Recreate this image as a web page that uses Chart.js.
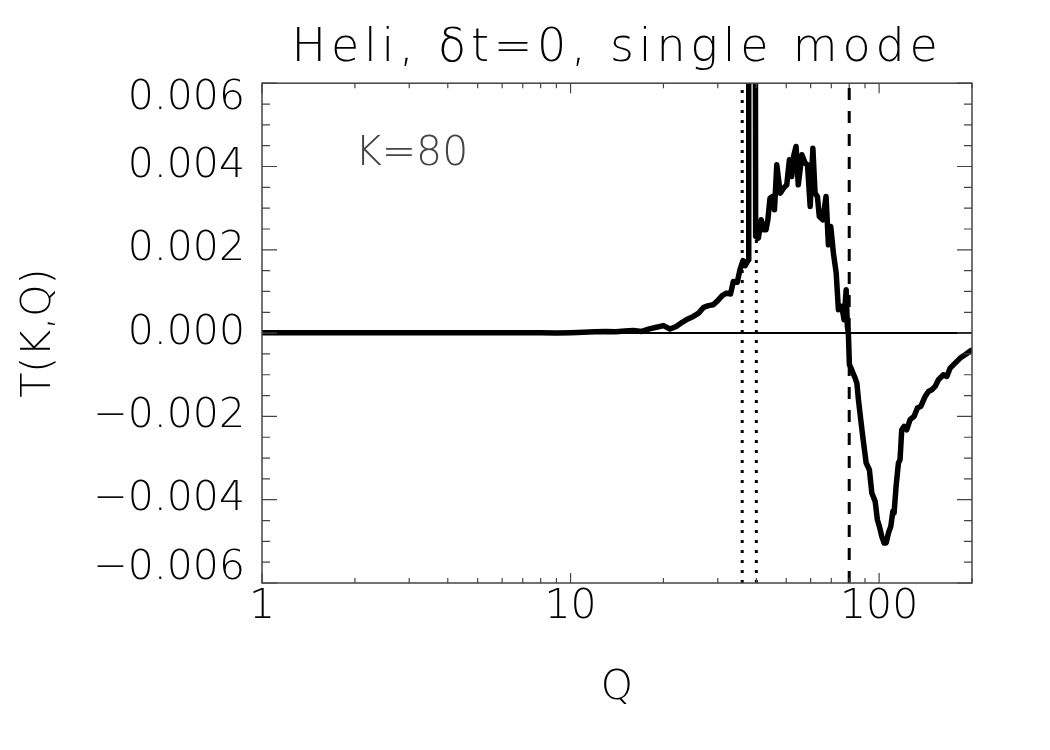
<!DOCTYPE html>
<html>
<head>
<meta charset="utf-8">
<script src="https://cdn.jsdelivr.net/npm/chart.js@4.4.1/dist/chart.umd.min.js"></script>
<style>
html,body{margin:0;padding:0;background:#fff;}
#wrap{width:1050px;height:750px;}
</style>
</head>
<body>
<div id="wrap"><canvas id="c" width="1050" height="750"></canvas></div>
<script>
// ---------- text ----------
const titleText = 'Heli, \u03B4t=0, single mode';
const xAxisTitle = 'Q';
const yAxisTitle = 'T(K,Q)';
const annotationText = 'K=80';
const annotationQ = 2;
const annotationT = 0.0043;

// ---------- data ----------
const qValues = [
  1, 2, 3, 4, 5, 6, 7, 8, 9, 10,
  11, 12, 13, 14, 15, 16, 17, 18, 19, 20,
  21, 22, 23, 24, 25, 26, 27, 28, 29, 30,
  31, 32, 33, 33.7, 34.7, 35.4, 36.2, 36.8, 37.7, 37.8,
  39.5, 39.8, 40.6, 41.5, 42.2, 43.0, 43.6, 44.3, 45.1, 45.8,
  46.6, 47.8, 49.0, 50.2, 51.2, 52.1, 52.8, 53.8, 54.7, 56.2,
  57.6, 58.6, 59.8, 61.0, 62.0, 63.1, 64.0, 65.7, 67.3, 68.5,
  69.7, 71.1, 72.6, 73.8, 75.7, 77.0, 78.2, 78.9, 79.5, 80.1,
  81.5, 83.6, 84.7, 85.7, 87.2, 88.5, 90.8, 93.0, 94.7, 97.1,
  98.7, 100.2, 102.0, 103.8, 105.4, 107.2, 109.1, 110.8, 111.8, 113.5,
  115.5, 116.9, 118.4, 120.5, 122.9, 126.0, 129.8, 133.1, 136.5, 141.0,
  144.5, 148.2, 151.9, 155.7, 161.6, 165.8, 169.9, 176.4, 183.1, 190.0,
  198.3, 200
];
const tValues = [
  0.00001, 0.00001, 0.00001, 0.00001, 0.00001, 0.00001, 0.00001, 0.00001, 0.000005, 0.00001,
  0.00002, 0.00003, 0.00004, 0.00003, 0.00005, 0.00006, 0.00004, 0.00010, 0.00014, 0.00018,
  0.00010, 0.00016, 0.00026, 0.00034, 0.00040, 0.00048, 0.00062, 0.00066, 0.00068, 0.00078,
  0.00090, 0.00096, 0.00094, 0.00124, 0.00122, 0.00152, 0.00174, 0.00162, 0.00176, 0.02,
  0.02, 0.00232, 0.00228, 0.00272, 0.00248, 0.00248, 0.00272, 0.00324, 0.00328, 0.00296,
  0.00404, 0.00336, 0.00348, 0.00356, 0.00416, 0.00376, 0.00424, 0.00448, 0.00356, 0.00428,
  0.00408, 0.00404, 0.00304, 0.00444, 0.00336, 0.00328, 0.00280, 0.00272, 0.00328, 0.00212,
  0.00256, 0.00192, 0.00144, 0.00056, 0.00064, 0.00032, 0.00104, 0.00016, 0.00000, -0.00075,
  -0.00088, -0.00108, -0.00120, -0.00160, -0.00208, -0.00248, -0.00312, -0.00328, -0.00384, -0.00404,
  -0.00448, -0.00464, -0.00488, -0.00504, -0.00504, -0.00480, -0.00464, -0.00428, -0.00432, -0.00368,
  -0.00312, -0.00304, -0.00232, -0.00224, -0.00232, -0.00208, -0.00200, -0.00180, -0.00176, -0.00152,
  -0.00140, -0.00136, -0.00128, -0.00112, -0.00100, -0.00104, -0.00084, -0.00072, -0.00060, -0.00052,
  -0.00042, -0.00042
];
const zeroLevel = 0;
const dottedQ = [36, 40];
const dashedQ = [80];

// ---------- axes ----------
const xRange = [1, 200];
const yRange = [-0.006, 0.006];
const xMajorTicks = [1, 10, 100];
const xTickLabels = ['1', '10', '100'];
const xMinorTicks = [2, 3, 4, 5, 6, 7, 8, 9, 20, 30, 40, 50, 60, 70, 80, 90, 200];
const yMajorTicks = [-0.006, -0.004, -0.002, 0, 0.002, 0.004, 0.006];
const yTickLabels = ['\u22120.006', '\u22120.004', '\u22120.002', '0.000', '0.002', '0.004', '0.006'];
const yMinorTicks = [-0.0055, -0.005, -0.0045, -0.0035, -0.003, -0.0025, -0.0015, -0.001, -0.0005,
                     0.0005, 0.001, 0.0015, 0.0025, 0.003, 0.0035, 0.0045, 0.005, 0.0055];

const FONT = '"DejaVu Sans", "Liberation Sans", sans-serif';
const FRAME = '#444';

function vline(q) {
  return [{x: q, y: yRange[0]}, {x: q, y: yRange[1]}];
}

const datasets = [
  { data: [{x: xRange[0], y: zeroLevel}, {x: xRange[1], y: zeroLevel}],
    borderColor: '#000', borderWidth: 2, pointRadius: 0, clip: 0 },
  ...dottedQ.map(q => ({ data: vline(q), borderColor: '#000', borderWidth: 3,
    borderDash: [3, 7], borderCapStyle: 'butt', pointRadius: 0, clip: 0 })),
  ...dashedQ.map(q => ({ data: vline(q), borderColor: '#000', borderWidth: 3,
    borderDash: [12, 11], borderCapStyle: 'butt', pointRadius: 0, clip: 0 })),
  { data: qValues.map((q, i) => ({x: q, y: tValues[i]})),
    borderColor: '#000', borderWidth: 5.5, pointRadius: 0, tension: 0,
    borderJoinStyle: 'round', borderCapStyle: 'round', clip: 0 }
];

const framePlugin = {
  id: 'frameTicks',
  afterLayout(chart) {
    const tb = chart.titleBlock;
    if (tb && !tb._spaced) {
      const orig = tb.draw;
      tb.draw = function(...args) {
        const c = this.ctx;
        const a = chart.chartArea;
        const dx = (a.left + a.right) / 2 - (this.left + this.right) / 2;
        c.save();
        c.translate(dx, 0);
        c.letterSpacing = '4.8px';
        orig.apply(this, args);
        c.restore();
      };
      tb._spaced = true;
    }
  },
  beforeDraw(chart) {
    const ys = chart.scales.y;
    const items = ys.getLabelItems();
    if (items && !items._shifted && items.length) {
      items[0].options.translation[1] -= 15;
      items[items.length - 1].options.translation[1] += 15;
      items._shifted = true;
    }
  },
  afterDatasetsDraw(chart) {
    const {ctx, chartArea: a, scales: {x, y}} = chart;
    ctx.save();
    ctx.strokeStyle = FRAME;
    ctx.lineWidth = 1.5;
    ctx.strokeRect(a.left, a.top, a.right - a.left, a.bottom - a.top);
    ctx.lineWidth = 1.2;
    const yt = (vals, len) => vals.forEach(v => {
      const py = y.getPixelForValue(v);
      ctx.beginPath();
      ctx.moveTo(a.left, py); ctx.lineTo(a.left + len, py);
      ctx.moveTo(a.right, py); ctx.lineTo(a.right - len, py);
      ctx.stroke();
    });
    const xt = (vals, len) => vals.forEach(v => {
      const px = x.getPixelForValue(v);
      ctx.beginPath();
      ctx.moveTo(px, a.bottom); ctx.lineTo(px, a.bottom - len);
      ctx.moveTo(px, a.top); ctx.lineTo(px, a.top + len);
      ctx.stroke();
    });
    yt(yMajorTicks, 15); yt(yMinorTicks, 8);
    xt(xMajorTicks, 10); xt(xMinorTicks, 5);
    ctx.restore();
  },
  afterDraw(chart) {
    const {ctx, scales: {x, y}} = chart;
    ctx.save();
    ctx.font = '200 41px ' + FONT;
    ctx.fillStyle = '#444';
    ctx.textAlign = 'left';
    ctx.textBaseline = 'middle';
    ctx.fillText(annotationText, x.getPixelForValue(annotationQ), y.getPixelForValue(annotationT));
    ctx.restore();
  }
};

const tickFont = {family: FONT, size: 41, weight: 200};

new Chart(document.getElementById('c'), {
  type: 'line',
  data: { datasets },
  plugins: [framePlugin],
  options: {
    responsive: false,
    animation: false,
    devicePixelRatio: 1,
    layout: { padding: {left: 0, right: 78, top: 0, bottom: 0} },
    plugins: {
      legend: {display: false},
      tooltip: {enabled: false},
      title: {
        display: true, text: titleText, color: '#000',
        font: {family: FONT, size: 46, weight: 200, lineHeight: 1.2},
        padding: {top: 21, bottom: 7}
      }
    },
    scales: {
      x: {
        type: 'logarithmic', min: xRange[0], max: xRange[1],
        afterBuildTicks: s => { s.ticks = xMajorTicks.map(v => ({value: v})); },
        afterFit: s => { s.height = 167; },
        ticks: {
          callback: (v, i) => xTickLabels[i],
          font: tickFont, color: '#000', padding: 0,
          maxRotation: 0, minRotation: 0, autoSkip: false
        },
        grid: {display: false, drawTicks: false},
        border: {display: false},
        title: {display: true, text: xAxisTitle, color: '#000', font: tickFont,
                padding: {top: 0, bottom: 37}}
      },
      y: {
        type: 'linear', min: yRange[0], max: yRange[1],
        afterBuildTicks: s => { s.ticks = yMajorTicks.map(v => ({value: v})); },
        afterFit: s => { s.width = 262; },
        ticks: {
          callback: (v, i) => yTickLabels[i],
          font: tickFont, color: '#000', padding: 17
        },
        grid: {display: false, drawTicks: false},
        border: {display: false},
        title: {display: true, text: yAxisTitle, color: '#000', font: tickFont,
                padding: {top: 15, bottom: 0}}
      }
    }
  }
});
</script>
</body>
</html>
